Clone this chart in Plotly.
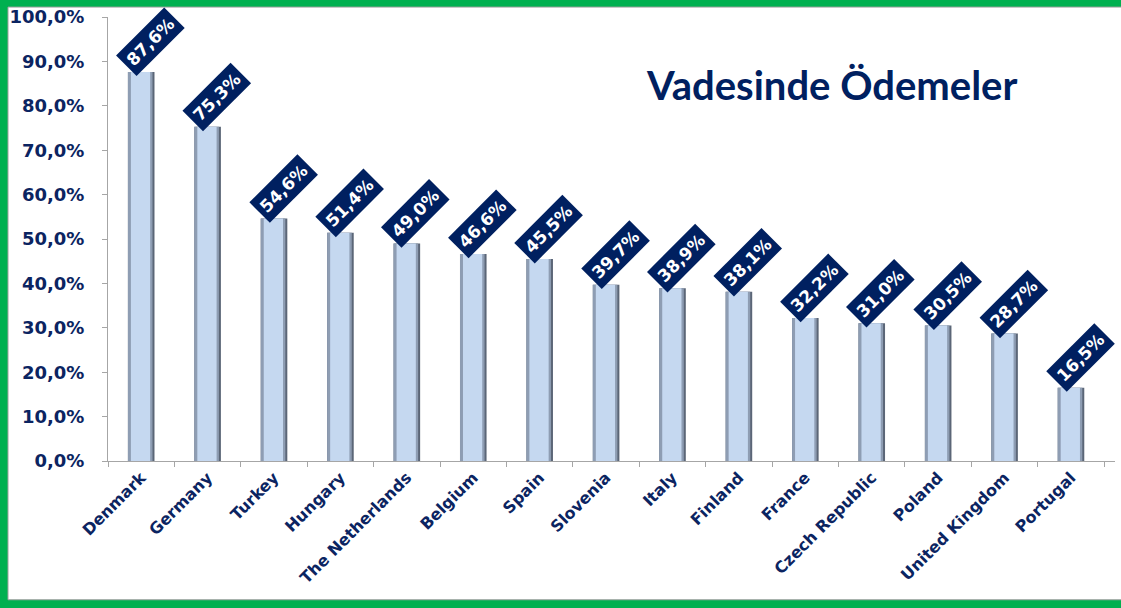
"""Vadesinde Ödemeler - bar chart of on-time payments by country."""

import plotly.graph_objects as go

countries = ["Denmark", "Germany", "Turkey", "Hungary", "The Netherlands",
             "Belgium", "Spain", "Slovenia", "Italy", "Finland", "France",
             "Czech Republic", "Poland", "United Kingdom", "Portugal"]
on_time = [0.876, 0.753, 0.546, 0.514, 0.490, 0.466, 0.455, 0.397,
           0.389, 0.381, 0.322, 0.310, 0.305, 0.287, 0.165]
y_ticks = [i / 10 for i in range(11)]

NAVY = "#0b2461"
GREEN = "#00b050"
W, H = 1121, 608
L, R, T, B = 108, 6, 13, 147


def px_x(px):
    # pixel column -> paper x
    return (px - L) / (W - L - R)


def px_y(py):
    # pixel row -> paper y
    return (H - B - py) / (H - T - B)


fig = go.Figure()

# bevelled bars: dark rim, mid edge, light face
fig.add_trace(go.Bar(x=countries, y=on_time, width=0.40,
                     marker=dict(color="#5b6677", line_width=0), hoverinfo="skip"))
fig.add_trace(go.Bar(x=countries, y=on_time, width=0.37, offset=-0.20,
                     marker=dict(color="#8e9db3", line_width=0), hoverinfo="skip"))
fig.add_trace(go.Bar(x=countries, y=on_time, width=0.29, offset=-0.155,
                     marker=dict(color="#c5d8f0", line_width=0),
                     hovertemplate="<b>%{x}</b><br>%{y:.1%}<extra></extra>"))

# value labels in navy boxes
for c, v in zip(countries, on_time):
    fig.add_annotation(
        x=c, y=v, text=f"{v * 100:.1f}%".replace(".", ","),
        showarrow=False, textangle=-45, xshift=9, yshift=30,
        bgcolor="#002060", borderpad=4,
        font=dict(family="DejaVu Sans", size=17, color="white", weight="bold"),
    )

fig.add_annotation(
    text="<b>Vadesinde Ödemeler</b>", xref="paper", yref="paper",
    x=px_x(831), y=px_y(82), xanchor="center", yanchor="middle",
    showarrow=False,
    font=dict(family="Lato", size=40, color="#002060"),
)

# green frame with a thin grey inner edge
fig.add_shape(type="rect", xref="paper", yref="paper", layer="below",
              x0=px_x(8), x1=px_x(W + 5), y0=px_y(601), y1=px_y(3),
              fillcolor="white", line=dict(color="#a0a0a0", width=1))

fig.update_layout(
    width=W, height=H,
    margin=dict(l=L, r=R, t=T, b=B),
    barmode="overlay",
    showlegend=False,
    separators=",.",
    paper_bgcolor=GREEN,
    plot_bgcolor="white",
)

fig.update_xaxes(
    showline=True, linecolor="#a6a6a6", linewidth=1,
    ticks="outside", tickson="boundaries", ticklen=5, tickcolor="#a6a6a6",
    tickangle=-45, showgrid=False,
    tickfont=dict(family="DejaVu Sans", size=16, color=NAVY, weight="bold"),
)
fig.update_yaxes(
    range=[0, 1.0], tickvals=y_ticks, tickformat=".1%",
    showline=True, linecolor="#a6a6a6", linewidth=1,
    ticks="outside", ticklen=5, tickcolor="#a6a6a6", ticklabelstandoff=14,
    showgrid=False, zeroline=False,
    tickfont=dict(family="DejaVu Sans", size=18, color=NAVY, weight="bold"),
)

fig.write_html("out.html", config={"displayModeBar": False},
               post_script="document.body.style.margin='0';")
